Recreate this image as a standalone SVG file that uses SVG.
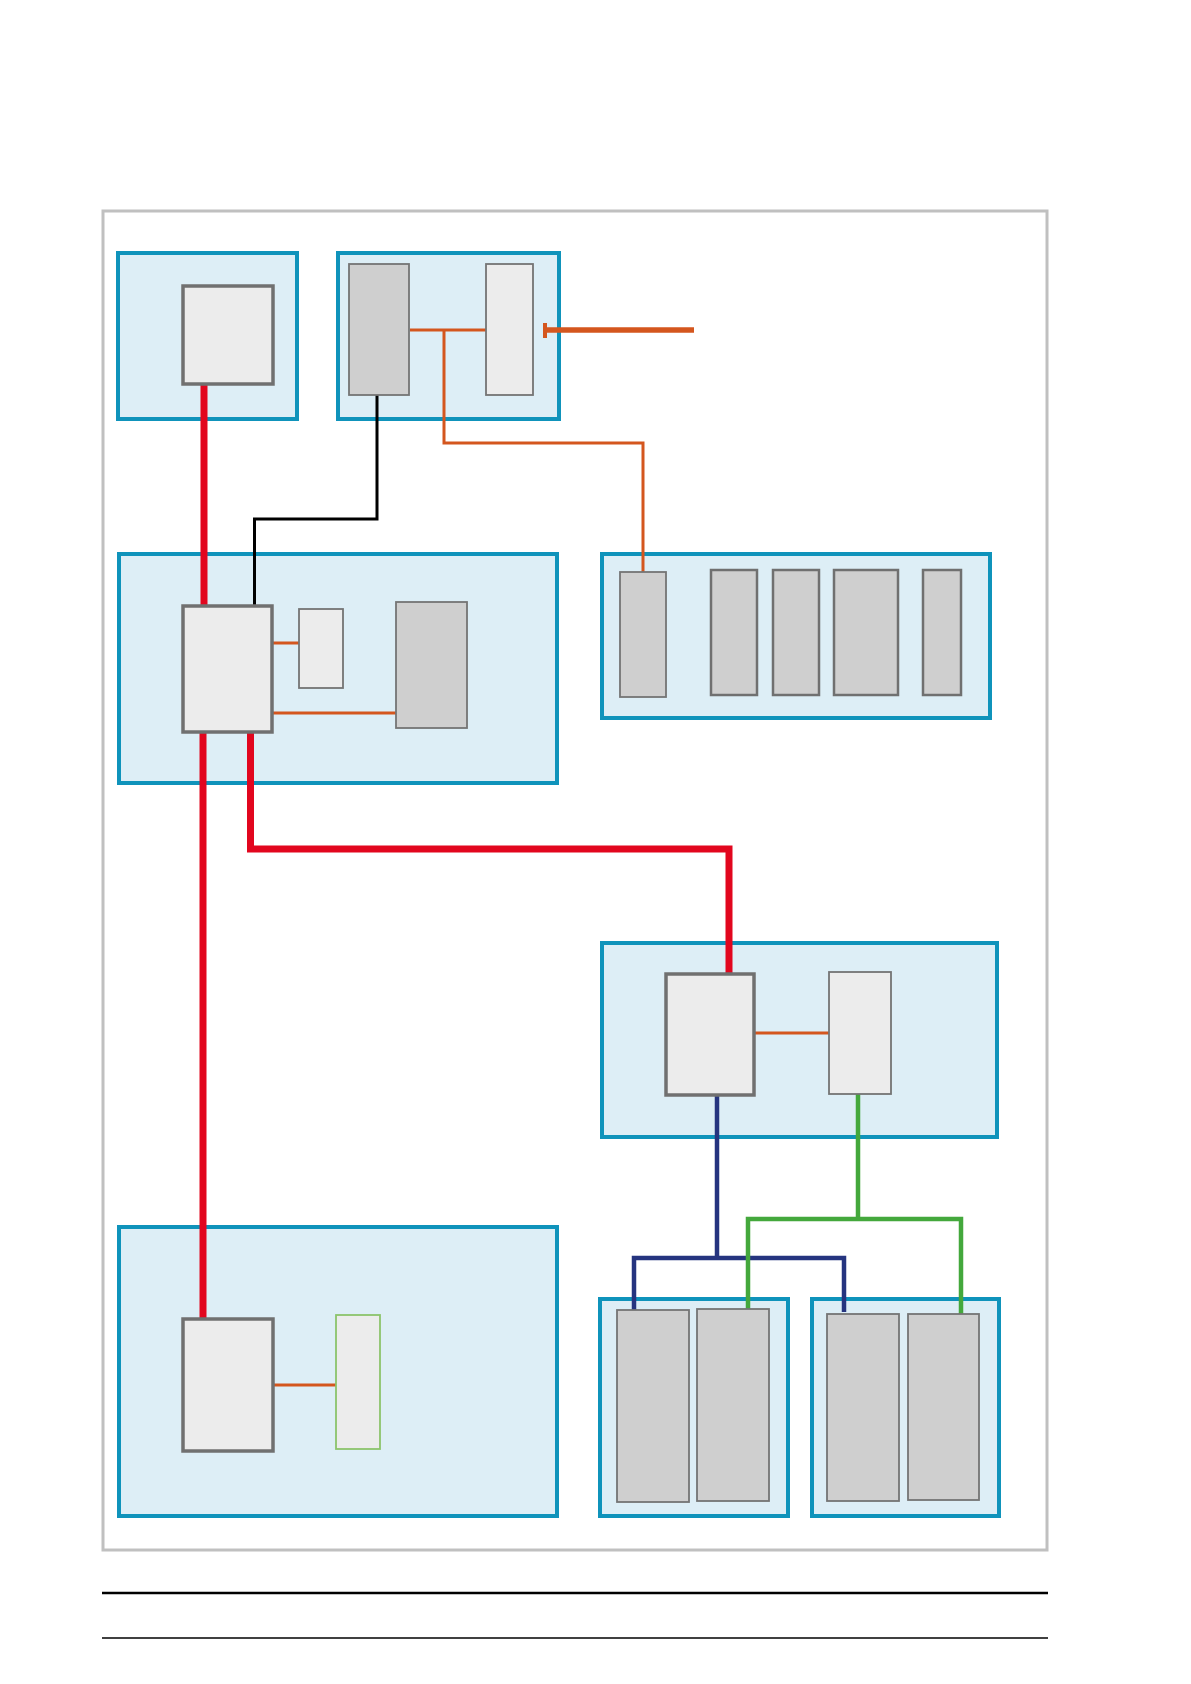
<svg xmlns="http://www.w3.org/2000/svg" width="1191" height="1684" viewBox="0 0 1191 1684">
<style>
.frame{fill:#fff;stroke:#c0c0c0;stroke-width:3}
.cont{fill:#ddeef6;stroke:#0f93bb;stroke-width:4}
.main{fill:#ececec;stroke:#707070;stroke-width:3.5}
.lt{fill:#ececec;stroke:#747474;stroke-width:1.8}
.gr{fill:#cfcfcf;stroke:#747474;stroke-width:1.8}
.gr2{fill:#cfcfcf;stroke:#707070;stroke-width:2.5}
.grn{fill:#ececec;stroke:#8cc46c;stroke-width:1.8}
.red{fill:none;stroke:#e2061e;stroke-width:7}
.org{fill:none;stroke:#d4561e;stroke-width:3}
.blk{fill:none;stroke:#000;stroke-width:3}
.nav{fill:none;stroke:#25347f;stroke-width:4.5}
.grl{fill:none;stroke:#44a83c;stroke-width:4.5}
</style>
<rect class="frame" x="103" y="211" width="944" height="1339"/>
<g id="c1"><rect class="cont" x="118" y="253" width="179" height="166"/></g>
<g id="c2"><rect class="cont" x="338" y="253" width="221" height="166"/></g>
<g id="c3"><rect class="cont" x="119" y="554" width="438" height="229"/></g>
<g id="c5"><rect class="cont" x="602" y="554" width="388" height="164"/></g>
<g id="c6"><rect class="cont" x="602" y="943" width="395" height="194"/></g>
<g id="c7"><rect class="cont" x="600" y="1299" width="188" height="217"/></g>
<g id="c8"><rect class="cont" x="812" y="1299" width="187" height="217"/></g>
<g id="c9"><rect class="cont" x="119" y="1227" width="438" height="289"/></g>
<g id="connectors">
<path class="red" d="M204 384V606"/>
<path class="red" d="M203 732V1320"/>
<path class="red" d="M250.5 732V849H729V975"/>
<path class="blk" d="M377 395V519H254.5V606"/>
<path class="org" d="M410 330H486M444 330V443H643V572"/>
<path fill="none" stroke="#d4561e" stroke-width="5.5" d="M545 330H694"/>
<path fill="none" stroke="#d4561e" stroke-width="4" d="M545 323V338"/>
<path class="org" d="M272 643H299M272 713H396"/>
<path class="org" d="M754 1033H829"/>
<path class="org" d="M273 1385H336"/>
<path class="nav" d="M717 1095V1258M634 1310V1258H844V1312"/>
<path class="grl" d="M858 1094V1219M748 1309V1219H961V1314"/>
</g>
<g id="n1"><rect class="main" x="183" y="286" width="90" height="98"/></g>
<g id="n2a"><rect class="gr" x="349" y="264" width="60" height="131"/></g>
<g id="n2b"><rect class="lt" x="486" y="264" width="47" height="131"/></g>
<g id="n3"><rect class="main" x="183" y="606" width="89" height="126"/></g>
<g id="n3b"><rect class="lt" x="299" y="609" width="44" height="79"/></g>
<g id="n3c"><rect class="gr" x="396" y="602" width="71" height="126"/></g>
<g id="n5a"><rect class="gr" x="620" y="572" width="46" height="125"/></g>
<g id="n5b"><rect class="gr2" x="711" y="570" width="46" height="125"/></g>
<g id="n5c"><rect class="gr2" x="773" y="570" width="46" height="125"/></g>
<g id="n5d"><rect class="gr2" x="834" y="570" width="64" height="125"/></g>
<g id="n5e"><rect class="gr2" x="923" y="570" width="38" height="125"/></g>
<g id="n6"><rect class="main" x="666" y="974" width="88" height="121"/></g>
<g id="n6b"><rect class="lt" x="829" y="972" width="62" height="122"/></g>
<g id="n7a"><rect class="gr" x="617" y="1310" width="72" height="192"/></g>
<g id="n7b"><rect class="gr" x="697" y="1309" width="72" height="192"/></g>
<g id="n8a"><rect class="gr" x="827" y="1314" width="72" height="187"/></g>
<g id="n8b"><rect class="gr" x="908" y="1314" width="71" height="186"/></g>
<g id="n9"><rect class="main" x="183" y="1319" width="90" height="132"/></g>
<g id="n9b"><rect class="grn" x="336" y="1315" width="44" height="134"/></g>
<line x1="102" y1="1593" x2="1048" y2="1593" stroke="#000" stroke-width="2.3"/>
<line x1="102" y1="1638" x2="1048" y2="1638" stroke="#000" stroke-width="1.3"/>
</svg>
